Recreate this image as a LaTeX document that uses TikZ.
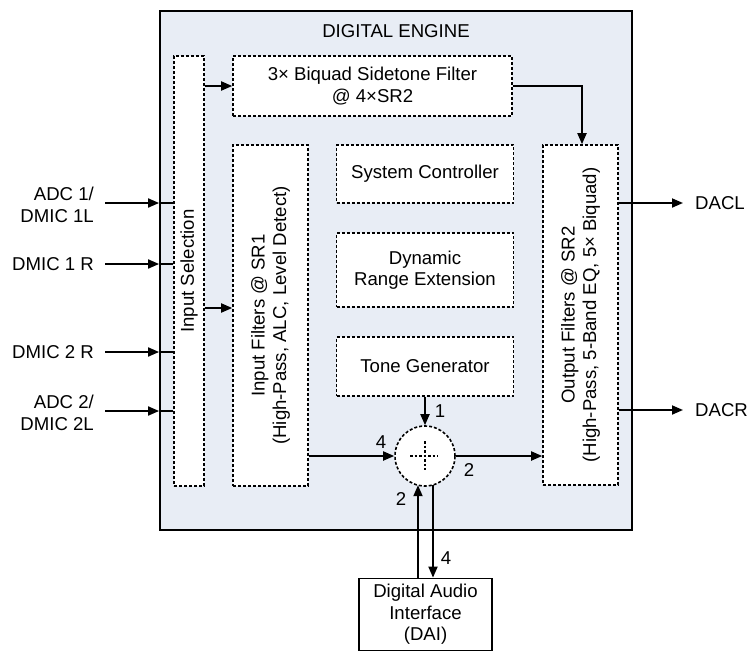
\documentclass[tikz,border=0pt]{standalone}
\usepackage{fontspec}
\setmainfont{Liberation Sans}
\usetikzlibrary{arrows.meta,calc}
\begin{document}
\begin{tikzpicture}[x=1pt,y=-1pt,
  every node/.style={font=\fontsize{18.6}{21.5}\selectfont, inner sep=0pt},
  engine/.style={draw=black, line width=1.8pt, fill=engfill},
  dbox/.style={draw=black, line width=1.6pt, dash pattern=on 3pt off 2pt, fill=white},
  sbox/.style={draw=black, line width=1.8pt, fill=white},
  arr/.style={line width=1.8pt, -{Triangle[length=11pt,width=9pt]}},
  ln/.style={line width=1.8pt},
  lbl/.style={align=center},
  num/.style={}]
\definecolor{engfill}{HTML}{E8EDF5}
\useasboundingbox[fill=white] (0,0) rectangle (747,651);
% outer engine
\node[engine, minimum width=472pt, minimum height=519pt] (outer) at (396,270.5) {};
\node (title) at (396,31) {DIGITAL ENGINE};
% inner boxes
\node[dbox, minimum width=30pt, minimum height=430pt] (insel) at (189,271) {};
\node[rotate=90] (inseltxt) at (insel.center) {Input Selection};
\node[dbox, minimum width=279pt, minimum height=60pt, lbl] (side) at (372.5,86) {3× Biquad Sidetone Filter\\@ 4×SR2};
\node[dbox, minimum width=75pt, minimum height=341pt] (inf) at (270.5,315.5) {};
\node[rotate=90, lbl] (inftxt) at (inf.center) {Input Filters @ SR1\\(High-Pass, ALC, Level Detect)};
\node[dbox, minimum width=177pt, minimum height=58pt] (sys) at (425,174) {System Controller};
\node[dbox, minimum width=177pt, minimum height=74pt, lbl] (dre) at (425,270) {Dynamic\\Range Extension};
\node[dbox, minimum width=177pt, minimum height=59pt] (tone) at (425,366.5) {Tone Generator};
\node[dbox, minimum width=75pt, minimum height=340pt] (outf) at (580.5,315) {};
\node[rotate=90, lbl] (outftxt) at (outf.center) {Output Filters @ SR2\\(High-Pass, 5-Band EQ, 5× Biquad)};
\node[dbox, circle, minimum size=60pt] (sum) at (425,456) {};
\draw[line width=1.1pt, dash pattern=on 2.5pt off 2pt] ($(sum.center)+(-15,0)$) -- ($(sum.center)+(13,0)$);
\draw[line width=1.1pt, dash pattern=on 2.5pt off 2pt] ($(sum.center)+(0,-15)$) -- ($(sum.center)+(0,14)$);
\node[sbox, minimum width=133pt, minimum height=72pt, lbl] (dai) at (425.5,614.5) {Digital Audio\\Interface\\(DAI)};
% inputs
\coordinate (i1) at (105,203);
\coordinate (i2) at (105,264);
\coordinate (i3) at (105,352);
\coordinate (i4) at (105,411);
\node[anchor=east, align=right] (t1) at (94,205) {ADC 1/\\DMIC 1L};
\node[anchor=east] (t2) at (94,264) {DMIC 1 R};
\node[anchor=east] (t3) at (94,352) {DMIC 2 R};
\node[anchor=east, align=right] (t4) at (94,413) {ADC 2/\\DMIC 2L};
\foreach \c in {i1,i2,i3,i4}{
  \draw[arr] (\c) -- (outer.west |- \c);
  \draw[ln] (outer.west |- \c) -- (insel.west |- \c);
}
% internal connections
\draw[arr] (insel.east |- side.west) -- (side.west);
\coordinate (isf) at (0,308);
\draw[arr] (insel.east |- isf) -- (inf.west |- isf);
\coordinate (sdn) at (582,0);
\draw[arr] (side.east) -| (outf.north -| sdn);
\draw[arr] (inf.east |- sum.west) -- (sum.west);
\draw[arr] (tone.south) -- (sum.north);
\draw[arr] (sum.east) -- (outf.west |- sum.east);
\coordinate (sbl) at ($(sum.center)+(-7,29.2)$);
\coordinate (sbr) at ($(sum.center)+(8,28.9)$);
\draw[arr] (dai.north -| sbl) -- (sbl);
\draw[arr] (sbr) -- (dai.north -| sbr);
\node[num] (n1) at (440,411) {1};
\node[num] (n4a) at (381,442) {4};
\node[num] (n2a) at (469,470) {2};
\node[num] (n2b) at (401,499) {2};
\node[num] (n4b) at (446,558) {4};
% outputs
\coordinate (o1) at (683,203);
\coordinate (o2) at (683,410);
\draw[arr] (outf.east |- o1) -- (o1);
\draw[arr] (outf.east |- o2) -- (o2);
\node[anchor=west] (dacl) at (695,203) {DACL};
\node[anchor=west] (dacr) at (695,410) {DACR};
\end{tikzpicture}
\end{document}
